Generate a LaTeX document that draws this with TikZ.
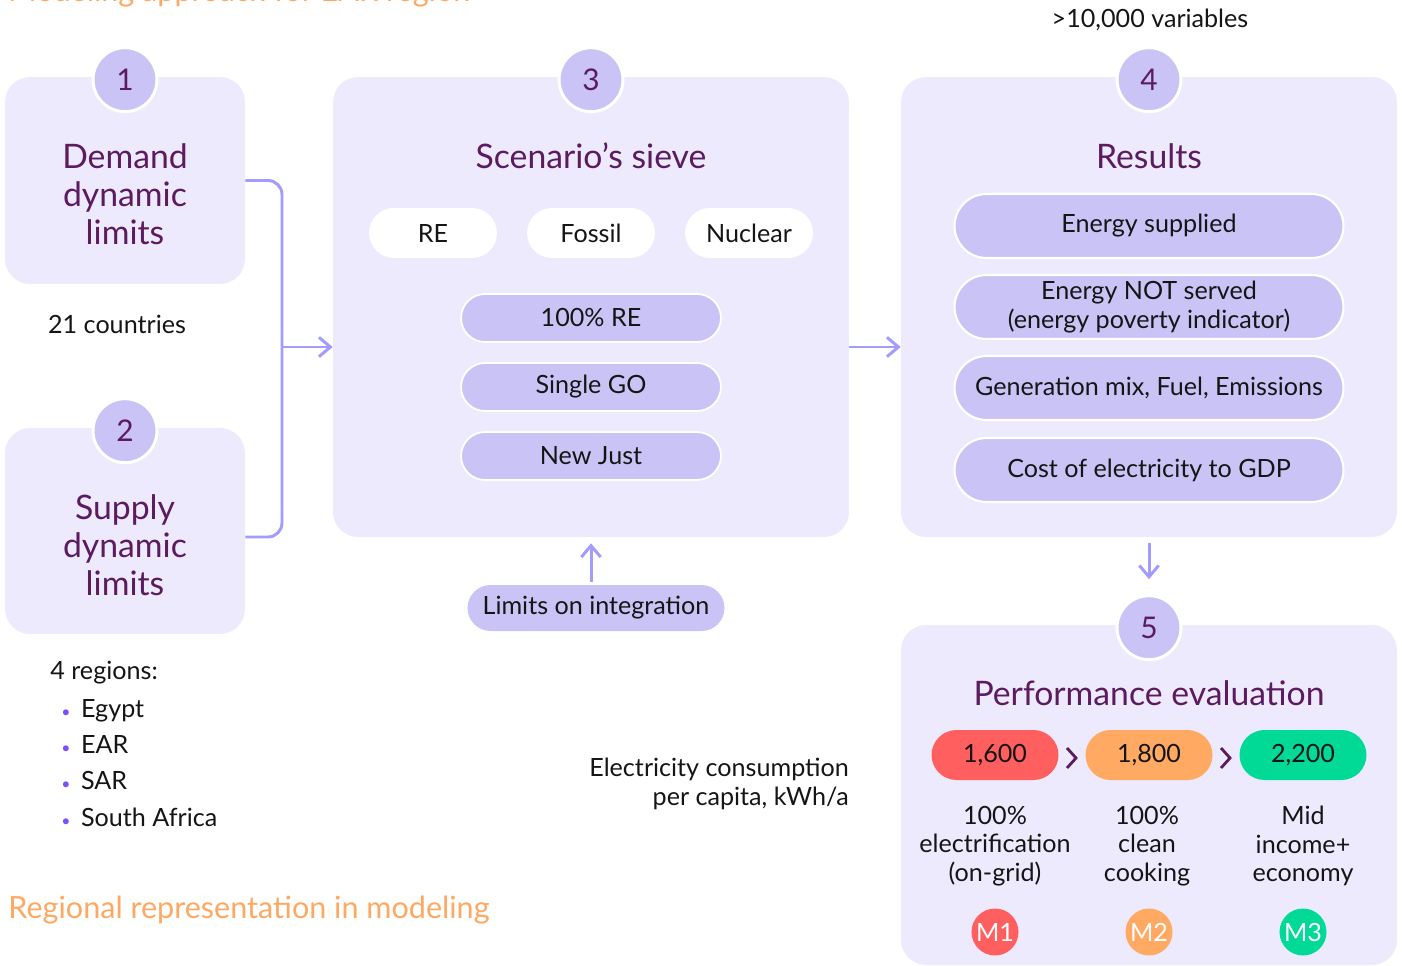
\documentclass[tikz,border=0pt]{standalone}
\usepackage{fontspec}
\setmainfont{Lato}
\usetikzlibrary{arrows.meta,positioning,calc}

\definecolor{boxbg}{HTML}{EDEAFD}
\definecolor{pill}{HTML}{C9C4F5}
\definecolor{plum}{HTML}{5B1B5E}
\definecolor{flow}{HTML}{A29CFF}
\definecolor{peach}{HTML}{FFA862}
\definecolor{mred}{HTML}{FF5F5E}
\definecolor{morange}{HTML}{FFA963}
\definecolor{mgreen}{HTML}{00DA96}
\definecolor{dot}{HTML}{7B4FFF}
\definecolor{ink}{HTML}{151515}

\begin{document}
\begin{tikzpicture}[x=0.02cm, y=-0.02cm, >={Straight Barb[length=6.5pt,width=11pt]},
    body/.style={font=\fontsize{14.3}{16.4}\selectfont, text=ink},
    block/.style={fill=boxbg, rounded corners=0.5cm, inner sep=0},
    badge/.style={circle, fill=pill, draw=white, line width=1.7pt, minimum size=1.28cm, inner sep=0, text=plum, font=\fontsize{17}{17}\selectfont},
    heading/.style={text=plum, align=center, font=\fontsize{19.2}{21.5}\selectfont},
    chip/.style={body, fill=white, rounded corners=0.5cm, minimum width=2.56cm, minimum height=1cm, inner sep=0},
    scen/.style={body, fill=pill, draw=white, line width=1pt, rounded corners=0.48cm, minimum width=5.2cm, minimum height=0.96cm, inner sep=0},
    res/.style={body, fill=pill, draw=white, line width=1.2pt, rounded corners=0.64cm, minimum width=7.78cm, minimum height=1.28cm, inner sep=0, align=center},
    val/.style={body, rounded corners=0.5cm, minimum width=2.54cm, minimum height=1cm, inner sep=0},
    mtag/.style={circle, minimum size=0.94cm, inner sep=0, text=white, font=\fontsize{14.3}{14.3}\selectfont},
    link/.style={draw=flow, line width=1.7pt},
    chev/.style={draw=plum, line width=1.6pt},
    orange title/.style={anchor=base west, text=peach, inner sep=0, font=\fontsize{17.4}{17.4}\selectfont}]
    % Page: 1402 x 966 px
    \useasboundingbox (0,0) rectangle (1402,966);

    % Title above (cut by the page edge)
    \node[orange title] (ttl) at (8,2) {Modeling approach for EAR region};

    % 1 -- Demand
    \node[block, minimum width=4.8cm, minimum height=4.14cm] (b1) at (125,180.5) {};
    \node[badge] (c1) at ([yshift=-0.06cm]b1.north) {1};
    \node[heading] (t1) at (125,194) {Demand\\dynamic\\limits};
    \node[body] (n1) at (117,324) {21 countries};

    % 2 -- Supply
    \node[block, minimum width=4.8cm, minimum height=4.12cm] (b2) at (125,531) {};
    \node[badge] (c2) at ([yshift=-0.06cm]b2.north) {2};
    \node[heading] (t2) at (125,545) {Supply\\dynamic\\limits};

    % Regions list
    \node[body, anchor=base west, inner sep=0] (r0) at (50,679) {4 regions:};
    \node[body, anchor=base west, inner sep=0] (r1) at (61,717) {{\color{dot}\small•}\hspace{6pt}Egypt};
    \node[body, anchor=base west, inner sep=0] (r2) at (61,753) {{\color{dot}\small•}\hspace{6pt}EAR};
    \node[body, anchor=base west, inner sep=0] (r3) at (61,789) {{\color{dot}\small•}\hspace{6pt}SAR};
    \node[body, anchor=base west, inner sep=0] (r4) at (61,826) {{\color{dot}\small•}\hspace{6pt}South Africa};

    \node[orange title] (cap) at (8,918) {Regional representation in modeling};

    % Bracket 1+2 -> 3
    \coordinate (jn) at (282,347);
    \draw[link, rounded corners=8pt] (b1.east) -| (jn) |- ([yshift=-0.12cm]b2.east);

    % 3 -- Scenario's sieve
    \node[block, minimum width=10.32cm, minimum height=9.2cm] (b3) at (591,307) {};
    \node[badge] (c3) at ([yshift=-0.06cm]b3.north) {3};
    \node[heading] (t3) at (591,156) {Scenario’s sieve};
    \node[chip] (re) at (433,233) {RE};
    \node[chip] (fos) at (591,233) {Fossil};
    \node[chip] (nuc) at (749,233) {Nuclear};
    \node[scen] (s1) at (591,318) {100\% RE};
    \node[scen] (s2) at (591,387) {Single GO};
    \node[scen] (s3) at (591,456) {New Just};
    \draw[link, ->] (jn) -- (jn -| b3.west);

    \node[body, fill=pill, rounded corners=0.46cm, minimum width=5.14cm, minimum height=0.92cm, inner sep=0] (lim) at (596,608) {Limits on integration};
    \draw[link, ->, shorten <=0.06cm, shorten >=0.12cm] (lim.north -| b3.south) -- (b3.south);

    % 4 -- Results
    \node[block, minimum width=9.92cm, minimum height=9.2cm] (b4) at (1149,307) {};
    \node[badge] (c4) at ([yshift=-0.06cm]b4.north) {4};
    \node[heading] (t4) at (1149,156) {Results};
    \node[body] (var) at (1150,20) {>10,000 variables};
    \node[res] (e1) at (1149,226) {Energy supplied};
    \node[res] (e2) at (1149,307) {Energy NOT served\\(energy poverty indicator)};
    \node[res] (e3) at (1149,388) {Generation mix, Fuel, Emissions};
    \node[res] (e4) at (1149,470) {Cost of electricity to GDP};
    \draw[link, ->] ([yshift=-0.8cm]b3.east) -- ([yshift=-0.8cm]b4.west);

    % 5 -- Performance evaluation
    \node[block, minimum width=9.92cm, minimum height=6.8cm] (b5) at (1149,795) {};
    \node[badge] (c5) at ([yshift=-0.06cm]b5.north) {5};
    \draw[link, ->, shorten <=0.12cm, shorten >=0.3cm] (b4.south) -- (c5.north);
    \node[heading] (t5) at (1149,693) {Performance evaluation};

    \node[val, fill=mred] (v1) at (995,755) {1,600};
    \node[val, fill=morange] (v2) at (1149,755) {1,800};
    \node[val, fill=mgreen] (v3) at (1303,755) {2,200};
    \draw[chev] ($(v1.east)!0.5!(v2.west)+(-5,-7)$) -- ++(9,10) -- ++(-9,10);
    \draw[chev] ($(v2.east)!0.5!(v3.west)+(-5,-7)$) -- ++(9,10) -- ++(-9,10);

    \node[body, align=center] (d1) at (995,846) {100\%\\electrification\\(on-grid)};
    \node[body, align=center] (d2) at (1147,846) {100\%\\clean\\cooking};
    \node[body, align=center] (d3) at (1303,846) {Mid\\income+\\economy};

    \node[mtag, fill=mred] (m1) at (995,932) {M1};
    \node[mtag, fill=morange] (m2) at (1149,932) {M2};
    \node[mtag, fill=mgreen] (m3) at (1303,932) {M3};

    \node[body, align=right, anchor=east] (kwh) at (855,784) {Electricity consumption\\per capita, kWh/a};

\end{tikzpicture}
\end{document}
